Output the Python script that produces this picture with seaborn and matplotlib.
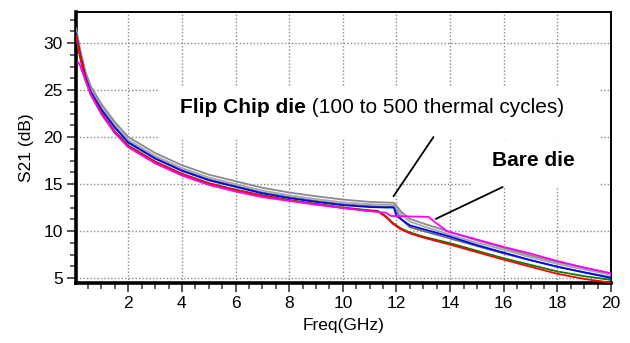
import numpy as np
import pandas as pd
import matplotlib
matplotlib.use("Agg")
import matplotlib.pyplot as plt
from matplotlib.patches import Rectangle
from matplotlib.ticker import MultipleLocator
import seaborn as sns

# ---------------- data ----------------
f_gray = [0.05, 0.2, 0.4, 0.6, 1.0, 1.5, 2, 3, 4, 5, 6, 7, 8, 9, 10, 11, 11.9,
          12.2, 12.5, 13, 14, 15, 16, 17, 18, 19, 20]
gray1 = [31.6, 29.4, 27.0, 25.4, 23.5, 21.6, 20.0, 18.3, 17.0, 16.0, 15.3, 14.6,
         14.1, 13.7, 13.35, 13.1, 13.0, 12.0, 11.3, 10.8, 9.9, 9.0, 8.2, 7.4,
         6.7, 6.1, 5.5]
gray2 = [31.4, 29.1, 26.7, 25.1, 23.2, 21.3, 19.7, 18.0, 16.7, 15.7, 15.0, 14.3,
         13.8, 13.4, 13.05, 12.85, 12.75, 11.7, 11.0, 10.5, 9.6, 8.75, 8.0, 7.2,
         6.5, 5.9, 5.35]
gray3 = [31.2, 28.9, 26.5, 24.9, 23.0, 21.1, 19.5, 17.8, 16.5, 15.5, 14.8, 14.1,
         13.6, 13.2, 12.85, 12.65, 12.55, 11.2, 10.4, 10.0, 9.2, 8.4, 7.6, 6.9,
         6.2, 5.6, 5.1]

f_blue = [0.05, 0.2, 0.4, 0.6, 1, 1.5, 2, 3, 4, 5, 6, 7, 8, 9, 10, 11, 11.6,
          11.9, 12.0, 12.5, 13, 14, 15, 16, 17, 18, 19, 20]
blue = [31.0, 28.8, 26.4, 24.8, 22.9, 21.0, 19.4, 17.7, 16.4, 15.4, 14.7, 14.0,
        13.5, 13.1, 12.75, 12.55, 12.5, 12.5, 11.6, 10.6, 10.2, 9.4, 8.5, 7.7,
        6.9, 6.2, 5.6, 5.0]

f_rg = [0.05, 0.2, 0.4, 0.6, 1, 1.5, 2, 3, 4, 5, 6, 7, 8, 9, 10, 11, 11.3, 11.6,
        11.85, 12.15, 12.5, 13, 14, 15, 16, 17, 18, 19, 20]
green = [30.8, 28.6, 26.2, 24.6, 22.6, 20.6, 19.1, 17.4, 16.1, 15.1, 14.4, 13.8,
         13.3, 12.9, 12.5, 12.2, 12.15, 11.6, 10.9, 10.3, 9.85, 9.4, 8.7, 7.9,
         7.1, 6.4, 5.7, 5.2, 4.8]
red = [30.7, 28.5, 26.1, 24.5, 22.5, 20.5, 19.0, 17.35, 16.05, 15.05, 14.35,
       13.75, 13.25, 12.85, 12.45, 12.15, 12.1, 11.5, 10.8, 10.2, 9.75, 9.3,
       8.55, 7.75, 6.95, 6.2, 5.45, 4.9, 4.5]

f_mag = [0.12, 0.2, 0.4, 0.6, 1, 1.5, 2, 3, 4, 5, 6, 7, 8, 9, 10, 11, 11.6, 11.8,
         13.2, 13.45, 13.9, 15, 16, 17, 18, 19, 20]
magenta = [28.0, 27.6, 26.0, 24.5, 22.4, 20.4, 18.9, 17.2, 15.9, 14.9, 14.2,
           13.6, 13.2, 12.8, 12.45, 12.1, 11.95, 11.6, 11.5, 10.9, 9.95, 9.1,
           8.3, 7.6, 6.8, 6.1, 5.5]

x_ticks = [2, 4, 6, 8, 10, 12, 14, 16, 18, 20]
y_ticks = [5, 10, 15, 20, 25, 30]

label_flip_bold = "Flip Chip die"
label_flip_rest = " (100 to 500 thermal cycles)"
label_bare = "Bare die"

# ---------------- style ----------------
sns.set_style("white")
plt.rcParams["font.family"] = ["Liberation Sans", "DejaVu Sans"]
plt.rcParams["text.color"] = "black"
plt.rcParams["axes.labelcolor"] = "black"
plt.rcParams["xtick.color"] = "black"
plt.rcParams["ytick.color"] = "black"

fig = plt.figure(figsize=(6.3, 3.43), dpi=100)
ax = fig.add_axes([76 / 630, 1 - 283 / 343, (611 - 76) / 630, (283 - 12) / 343])

series = [
    (f_gray, gray3, "#6f6f6f"),
    (f_gray, gray2, "#a8a8a8"),
    (f_gray, gray1, "#8a8a8a"),
    (f_blue, blue, "#0000ff"),
    (f_rg, green, "#008000"),
    (f_rg, red, "#ff0000"),
    (f_mag, magenta, "#ff00ff"),
]
for fx, fy, col in series:
    sns.lineplot(x=fx, y=fy, ax=ax, color=col, lw=1.3, sort=False,
                 estimator=None, legend=False, zorder=3)

ax.set_xlim(0.05, 20)
ax.set_ylim(4.47, 33.3)
ax.set_xticks(x_ticks)
ax.set_yticks(y_ticks)
ax.xaxis.set_minor_locator(MultipleLocator(0.5))
ax.yaxis.set_minor_locator(MultipleLocator(1.25))
ax.tick_params(axis="both", which="major", direction="out", length=6.5,
               width=1.3, color="#444444", labelcolor="black", labelsize=12.5,
               pad=3)
ax.tick_params(axis="both", which="minor", direction="out", length=4,
               width=1.3, color="#555555")
ax.tick_params(left=True, bottom=True)
ax.tick_params(axis="both", which="minor", left=True, bottom=True)

ax.set_axisbelow(True)
ax.grid(True, which="major", color="#8a8a8a", linestyle=(0, (1, 1.5)), lw=1.0)

for side in ["left", "bottom"]:
    ax.spines[side].set_linewidth(2.6)
    ax.spines[side].set_color("black")
for side in ["top", "right"]:
    ax.spines[side].set_linewidth(1.4)
    ax.spines[side].set_color("black")
    ax.spines[side].set_visible(True)

ax.set_xlabel("Freq(GHz)", fontsize=12.5, labelpad=5, color="black")
ax.set_ylabel("S21 (dB)", fontsize=12.5, labelpad=7, color="black")

# white label boxes (hide grid behind the annotation texts)
ax.add_patch(Rectangle((3.19, 19.8), 19.6 - 3.19, 25.3 - 19.8,
                       facecolor="white", edgecolor="none", zorder=1))
ax.add_patch(Rectangle((14.83, 14.8), 19.6 - 14.83, 19.7 - 14.8,
                       facecolor="white", edgecolor="none", zorder=1))

t1 = ax.text(3.94, 23.1, label_flip_bold, fontsize=15, fontweight="bold",
             va="center", ha="left", zorder=4, color="black")
ax.annotate(label_flip_rest, xy=(1, 0), xycoords=t1, va="bottom", ha="left",
            fontsize=15, zorder=4, color="black")
ax.text(15.58, 17.55, label_bare, fontsize=15, fontweight="bold",
        va="center", ha="left", zorder=4, color="black")

# pointer lines
ax.plot([13.38, 11.89], [20.0, 13.7], color="black", lw=1.3, zorder=4)
ax.plot([15.96, 13.46], [14.68, 11.28], color="black", lw=1.3, zorder=4)

fig.savefig("out.png", dpi=100)
